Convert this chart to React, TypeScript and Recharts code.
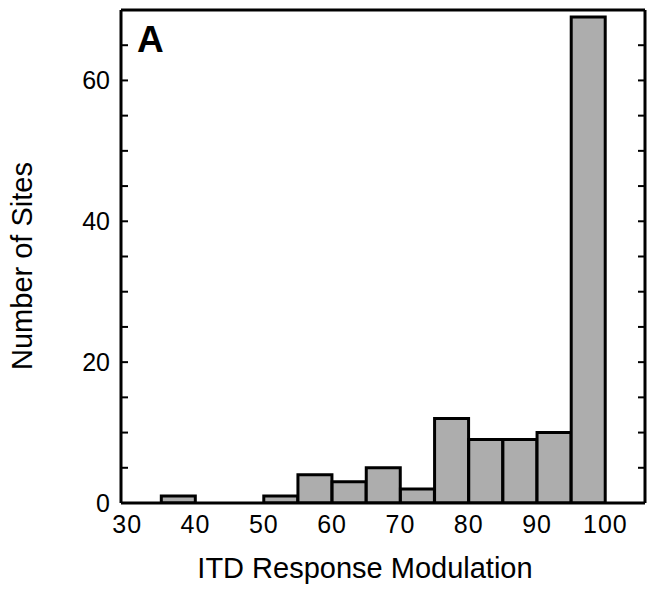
import React from 'react';
import { BarChart, Bar, XAxis, YAxis, Label } from 'recharts';

// histogram bins (centre of each 5-wide bin) and counts
const binMids = [37.5, 42.5, 47.5, 52.5, 57.5, 62.5, 67.5, 72.5, 77.5, 82.5, 87.5, 92.5, 97.5];
const siteCounts = [1, 0, 0, 1, 4, 3, 5, 2, 12, 9, 9, 10, 69];
const xTicks = [30, 40, 50, 60, 70, 80, 90, 100];
const yTicks = [0, 5, 10, 15, 20, 25, 30, 35, 40, 45, 50, 55, 60, 65, 70];
const yLabelled = [0, 20, 40, 60];

const FONT = '"Liberation Sans", Arial, Helvetica, sans-serif';

const data = binMids.map((mid, i) => ({ mid, count: siteCounts[i] }));

const LeftTick = (props: any) => {
  const { x, y, payload } = props;
  const v = payload.value;
  return (
    <g>
      {v > 0 && v < 70 && (
        <line x1={x} x2={x + 7} y1={y} y2={y} stroke="#000" strokeWidth={2} />
      )}
      {yLabelled.includes(v) && (
        <text
          x={x - 11}
          y={y + 9}
          textAnchor="end"
          fontSize={25}
          fontFamily={FONT}
          fill="#000"
        >
          {v}
        </text>
      )}
    </g>
  );
};

const RightTick = (props: any) => {
  const { x, y, payload } = props;
  if (payload.value <= 0 || payload.value >= 70) return <g />;
  return <line x1={x} x2={x - 7} y1={y} y2={y} stroke="#000" strokeWidth={2} />;
};

const BottomTick = (props: any) => {
  const { x, y, payload } = props;
  return (
    <text
      x={x}
      y={y + 30}
      textAnchor="middle"
      fontSize={25}
      letterSpacing={1}
      fontFamily={FONT}
      fill="#000"
    >
      {payload.value}
    </text>
  );
};

export default function App() {
  return (
    <div style={{ position: 'absolute', left: 0, top: 0, width: 647, height: 589, background: '#fff' }}>
      <BarChart
        width={647}
        height={589}
        data={data}
        margin={{ top: 9, right: 1, left: 0, bottom: 0 }}
        barCategoryGap={0}
        barGap={0}
      >
        <XAxis
          dataKey="mid"
          type="number"
          domain={[29.1, 105.8]}
          ticks={xTicks}
          interval={0}
          height={86}
          tickSize={0}
          tickMargin={0}
          tickLine={false}
          tick={<BottomTick />}
          axisLine={{ stroke: '#000', strokeWidth: 3 }}
          allowDataOverflow
        >
          <Label
            content={() => (
              <text x={365} y={578} textAnchor="middle" fontSize={29} fontFamily={FONT} fill="#000">
                ITD Response Modulation
              </text>
            )}
          />
        </XAxis>
        <XAxis
          xAxisId="top"
          dataKey="mid"
          orientation="top"
          type="number"
          domain={[29.1, 105.8]}
          height={1}
          tick={false}
          tickLine={false}
          axisLine={{ stroke: '#000', strokeWidth: 3 }}
          allowDataOverflow
        />
        <YAxis
          type="number"
          domain={[0, 70]}
          ticks={yTicks}
          interval={0}
          width={121}
          tickSize={0}
          tickMargin={0}
          tickLine={false}
          tick={<LeftTick />}
          axisLine={{ stroke: '#000', strokeWidth: 3 }}
          allowDataOverflow
        >
          <Label
            content={() => (
              <text
                x={32}
                y={266}
                transform="rotate(-90 32 266)"
                textAnchor="middle"
                fontSize={29}
                fontFamily={FONT}
                fill="#000"
              >
                Number of Sites
              </text>
            )}
          />
        </YAxis>
        <YAxis
          yAxisId="right"
          orientation="right"
          type="number"
          domain={[0, 70]}
          ticks={yTicks}
          interval={0}
          width={1}
          tickSize={0}
          tickMargin={0}
          tickLine={false}
          tick={<RightTick />}
          axisLine={{ stroke: '#000', strokeWidth: 3 }}
          allowDataOverflow
        />
        <Bar
          dataKey="count"
          fill="#adadad"
          stroke="#000"
          strokeWidth={3}
          isAnimationActive={false}
        />
      </BarChart>
      <div
        style={{
          position: 'absolute',
          left: 137,
          top: 18,
          fontFamily: FONT,
          fontWeight: 'bold',
          fontSize: 37,
          lineHeight: '44px',
          color: '#000',
        }}
      >
        A
      </div>
    </div>
  );
}
